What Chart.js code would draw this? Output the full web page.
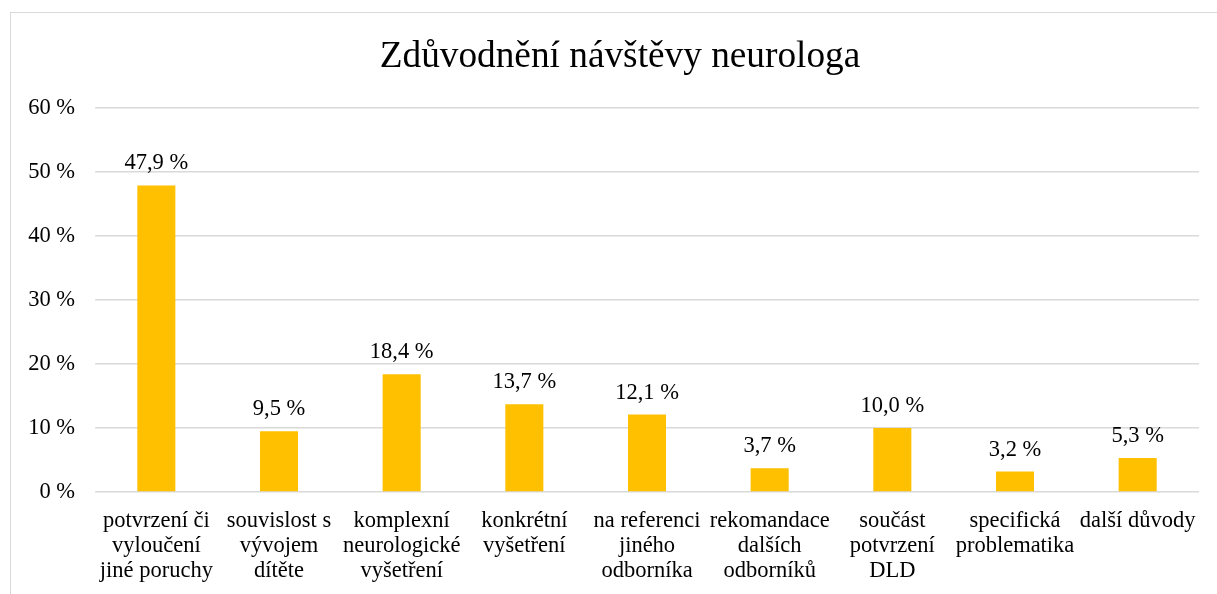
<!DOCTYPE html>
<html>
<head>
<meta charset="utf-8">
<script src="https://cdn.jsdelivr.net/npm/chart.js@4/dist/chart.umd.min.js"></script>
<style>
  html, body { margin: 0; padding: 0; background: #fff; }
  #wrap { position: relative; width: 1217px; height: 594px; overflow: hidden; }
  #frame { position: absolute; left: 10px; top: 12px; width: 1210px; height: 600px; border: 1px solid #d9d9d9; box-sizing: border-box; pointer-events: none; }
  canvas { position: absolute; left: 0; top: 0; }
</style>
</head>
<body>
<div id="wrap">
  <canvas id="c" width="1217" height="594"></canvas>
  <div id="frame"></div>
</div>
<script>
const titleText = "Zdůvodnění návštěvy neurologa";
const categories = [
  ["potvrzení či", "vyloučení", "jiné poruchy"],
  ["souvislost s", "vývojem", "dítěte"],
  ["komplexní", "neurologické", "vyšetření"],
  ["konkrétní", "vyšetření"],
  ["na referenci", "jiného", "odborníka"],
  ["rekomandace", "dalších", "odborníků"],
  ["součást", "potvrzení", "DLD"],
  ["specifická", "problematika"],
  ["další důvody"]
];
const values = [47.9, 9.5, 18.4, 13.7, 12.1, 3.7, 10.0, 3.2, 5.3];
const yTicks = [0, 10, 20, 30, 40, 50, 60];

const fontFamily = "'Liberation Serif', 'Times New Roman', serif";

const dataLabels = {
  id: 'dataLabels',
  afterDatasetsDraw(chart) {
    const ctx = chart.ctx;
    const meta = chart.getDatasetMeta(0);
    ctx.save();
    ctx.font = "22.5px " + fontFamily;
    ctx.fillStyle = "#000";
    ctx.textAlign = "center";
    ctx.textBaseline = "alphabetic";
    meta.data.forEach((bar, i) => {
      const txt = values[i].toFixed(1).replace('.', ',') + " %";
      ctx.fillText(txt, bar.x, bar.y - 16);
    });
    ctx.restore();
  }
};

const chartTitle = {
  id: 'chartTitle',
  afterDraw(chart) {
    const ctx = chart.ctx;
    ctx.save();
    ctx.font = "37.3px " + fontFamily;
    ctx.fillStyle = "#000";
    ctx.textAlign = "center";
    ctx.textBaseline = "alphabetic";
    ctx.fillText(titleText, 620, 67);
    ctx.restore();
  }
};

new Chart(document.getElementById('c'), {
  type: 'bar',
  data: {
    labels: categories,
    datasets: [{
      data: values,
      backgroundColor: '#FFC000',
      borderWidth: 0,
      categoryPercentage: 1,
      barPercentage: 0.31
    }]
  },
  options: {
    responsive: false,
    animation: false,
    devicePixelRatio: 1,
    layout: { padding: { left: 20, right: 18, top: 108, bottom: 0 } },
    plugins: {
      legend: { display: false },
      tooltip: { enabled: false },
      title: { display: false }
    },
    scales: {
      x: {
        afterFit(scale) { scale.height = 102; },
        grid: { display: false, drawTicks: false },
        border: { display: false },
        ticks: {
          color: '#000',
          font: { family: fontFamily, size: 22.5, lineHeight: 1.12 },
          padding: 16,
          maxRotation: 0,
          autoSkip: false
        }
      },
      y: {
        min: 0,
        max: 60,
        afterBuildTicks(scale) { scale.ticks = yTicks.map(v => ({ value: v })); },
        afterFit(scale) { scale.width = 75; },
        grid: { color: '#d9d9d9', lineWidth: 1.5, drawTicks: false },
        border: { display: false },
        ticks: {
          color: '#000',
          font: { family: fontFamily, size: 22.5 },
          padding: 20,
          callback: v => v + " %"
        }
      }
    }
  },
  plugins: [dataLabels, chartTitle]
});
</script>
</body>
</html>
